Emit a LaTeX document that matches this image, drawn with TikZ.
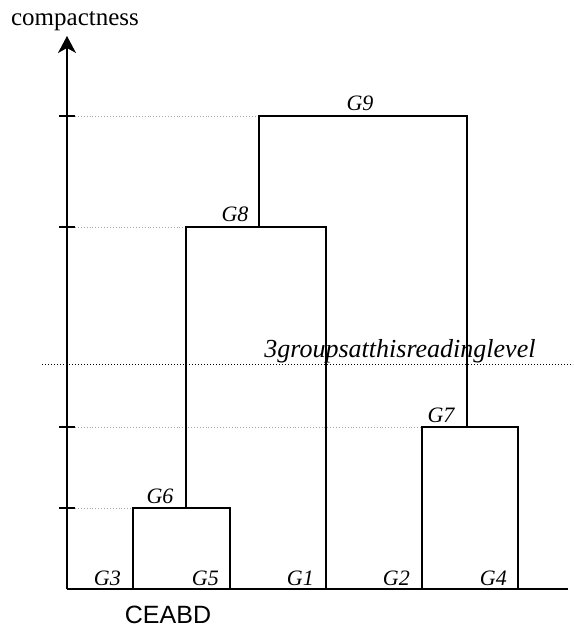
\documentclass[tikz,border=0pt]{standalone}
\usepackage{fontspec}
\setmainfont{Liberation Serif}
\setsansfont{Liberation Sans}
\usetikzlibrary{arrows.meta}
\begin{document}
\begin{tikzpicture}[x=1pt,y=-1pt,
  tree/.style={draw=black,line width=1.4pt},
  guide/.style={draw=gray!70,dotted,line width=0.9pt},
  level/.style={draw=black,dotted,line width=1pt},
  glabel/.style={font=\fontsize{22}{24}\selectfont\itshape,inner sep=0pt,anchor=base east},
  toplabel/.style={font=\fontsize{22}{24}\selectfont\itshape,inner sep=0pt,anchor=base},
]
\useasboundingbox (0,0) rectangle (573,628);
% axes
\coordinate (O) at (67,589);
\coordinate (Ytop) at (67,36);
\coordinate (Xend) at (568,589);
\draw[tree,-{Stealth[length=17pt,width=18pt,inset=5pt]}] (O) -- (Ytop);
\draw[tree] (O) -- (Xend);
\node[font=\fontsize{25}{28}\selectfont,inner sep=0pt,anchor=base] (ylab) at (75,26) {compactness};
\node[font=\sffamily\fontsize{25}{28}\selectfont,inner sep=0pt,anchor=base] (xlab) at (168,623) {CEABD};
% ticks
\foreach \yy/\nm in {116/t9,227/t8,427/t7,508/t6}{
  \coordinate (\nm a) at (59,\yy);
  \coordinate (\nm b) at (75,\yy);
  \draw[tree] (\nm a) -- (\nm b);
}
% tree coordinates
\coordinate (g6l) at (133,589); \coordinate (g6lt) at (133,508);
\coordinate (g6r) at (230,589); \coordinate (g6rt) at (230,508);
\coordinate (g6m) at (186,508);
\coordinate (g8l) at (186,227); \coordinate (g8r) at (326,227); \coordinate (g8rb) at (326,589);
\coordinate (g8m) at (259,227);
\coordinate (g9l) at (259,116); \coordinate (g9r) at (467,116); \coordinate (g9rb) at (467,427);
\coordinate (g7l) at (422,589); \coordinate (g7lt) at (422,427);
\coordinate (g7r) at (518,589); \coordinate (g7rt) at (518,427);
% guides
\draw[guide] (t9b) -- (g9l);
\draw[guide] (t8b) -- (g8l);
\draw[guide] (t7b) -- (g7lt);
\draw[guide] (t6b) -- (g6lt);
% level line
\coordinate (lvl1) at (42,364); \coordinate (lvl2) at (573,364);
\draw[level] (lvl1) -- (lvl2);
\node[font=\fontsize{26}{28}\selectfont\itshape,inner sep=0pt,anchor=base] (lvltxt) at (400,357) {3groupsatthisreadinglevel};
% tree
\draw[tree] (g6l) -- (g6lt) -- (g6rt) -- (g6r);
\draw[tree] (g6m) -- (g8l) -- (g8r) -- (g8rb);
\draw[tree] (g8m) -- (g9l) -- (g9r) -- (g9rb);
\draw[tree] (g7l) -- (g7lt) -- (g7rt) -- (g7r);
% labels
\node[glabel] (G3) at (121,585) {G3};
\node[glabel] (G5) at (219,585) {G5};
\node[glabel] (G1) at (314,585) {G1};
\node[glabel] (G2) at (410,585) {G2};
\node[glabel] (G4) at (507,585) {G4};
\node[toplabel] (G6) at (160,503) {G6};
\node[toplabel] (G7) at (441,422) {G7};
\node[toplabel] (G8) at (235,222) {G8};
\node[toplabel] (G9) at (360,111) {G9};
\end{tikzpicture}
\end{document}
